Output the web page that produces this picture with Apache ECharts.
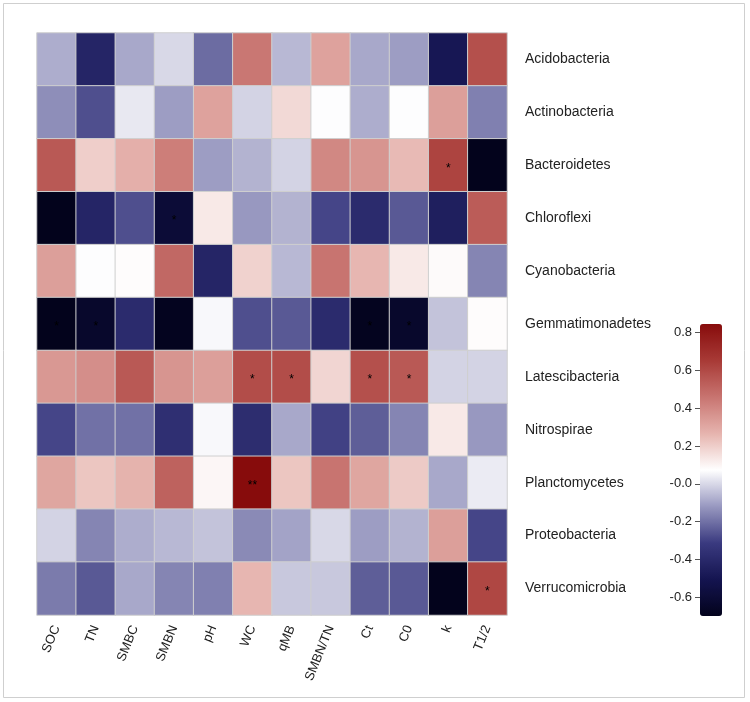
<!DOCTYPE html>
<html>
<head>
<meta charset="utf-8">
<script src="https://cdn.jsdelivr.net/npm/echarts@6/dist/echarts.min.js"></script>
<style>html,body{margin:0;padding:0;background:#fff}#c{width:750px;height:702px}</style>
</head>
<body>
<div id="c"></div>
<script>
const variables = ['SOC','TN','SMBC','SMBN','pH','WC','qMB','SMBN/TN','Ct','C0','k','T1/2'];
const taxa = ['Acidobacteria','Actinobacteria','Bacteroidetes','Chloroflexi','Cyanobacteria','Gemmatimonadetes','Latescibacteria','Nitrospirae','Planctomycetes','Proteobacteria','Verrucomicrobia'];

const acidobacteria    = [-0.08,-0.42,-0.09, 0.00,-0.21, 0.45,-0.06, 0.32,-0.09,-0.11,-0.49, 0.58];
const actinobacteria   = [-0.14,-0.27, 0.03,-0.11, 0.32,-0.01, 0.17, 0.07,-0.08, 0.07, 0.33,-0.17];
const bacteroidetes    = [ 0.55, 0.20, 0.28, 0.43,-0.11,-0.07,-0.01, 0.40, 0.36, 0.25, 0.62,-0.70];
const chloroflexi      = [-0.70,-0.42,-0.27,-0.60, 0.13,-0.12,-0.07,-0.29,-0.39,-0.25,-0.45, 0.54];
const cyanobacteria    = [ 0.33, 0.07, 0.08, 0.50,-0.42, 0.19,-0.06, 0.46, 0.26, 0.13, 0.085,-0.16];
const gemmatimonadetes = [-0.70,-0.64,-0.39,-0.69, 0.06,-0.27,-0.25,-0.39,-0.69,-0.64,-0.04, 0.08];
const latescibacteria  = [ 0.35, 0.38, 0.55, 0.36, 0.33, 0.59, 0.59, 0.18, 0.58, 0.55,-0.01,-0.01];
const nitrospirae      = [-0.29,-0.20,-0.20,-0.37, 0.06,-0.38,-0.09,-0.30,-0.24,-0.16, 0.13,-0.12];
const planctomycetes   = [ 0.31, 0.22, 0.27, 0.52, 0.095, 0.846, 0.22, 0.46, 0.31, 0.21,-0.09, 0.035];
const proteobacteria   = [-0.01,-0.16,-0.08,-0.06,-0.04,-0.15,-0.10, 0.00,-0.11,-0.07, 0.33,-0.29];
const verrucomicrobia  = [-0.18,-0.25,-0.09,-0.16,-0.17, 0.26,-0.03,-0.03,-0.24,-0.25,-0.70, 0.61];

const valueRows = [acidobacteria, actinobacteria, bacteroidetes, chloroflexi, cyanobacteria, gemmatimonadetes, latescibacteria, nitrospirae, planctomycetes, proteobacteria, verrucomicrobia];

// significance marks per row
const sigRows = [
  ['','','','','','','','','','','',''],
  ['','','','','','','','','','','',''],
  ['','','','','','','','','','','*',''],
  ['','','','*','','','','','','','',''],
  ['','','','','','','','','','','',''],
  ['*','*','','','','','','','*','*','',''],
  ['','','','','','*','*','','*','*','',''],
  ['','','','','','','','','','','',''],
  ['','','','','','**','','','','','',''],
  ['','','','','','','','','','','',''],
  ['','','','','','','','','','','','*']
];

const colorbarTicks = [-0.6,-0.4,-0.2,0,0.2,0.4,0.6,0.8];
const colorbarTickLabels = ['-0.6','-0.4','-0.2','-0.0','0.2','0.4','0.6','0.8'];
const scaleMin = -0.70, scaleMax = 0.846;

const data = [];
valueRows.forEach((row, yi) => row.forEach((v, xi) => data.push([xi, yi, v])));

const chart = echarts.init(document.getElementById('c'));
const font = '"Liberation Sans", Arial, sans-serif';
chart.setOption({
  animation: false,
  backgroundColor: '#fff',
  graphic: [{
    type: 'rect', shape: {x: 3.5, y: 3.5, width: 741, height: 694},
    style: {fill: 'none', stroke: '#cfcfcf', lineWidth: 1}, silent: true
  }],
  grid: [
    {left: 37, top: 33, width: 470, height: 582},
    {left: 700, top: 324, width: 22, height: 292}
  ],
  xAxis: [
    {type: 'category', gridIndex: 0, data: variables, position: 'bottom',
     axisLine: {show: false}, axisTick: {show: false}, splitLine: {show: false},
     axisLabel: {rotate: 68, margin: 11, fontSize: 13, color: '#222', fontFamily: font, interval: 0}},
    {type: 'value', gridIndex: 1, show: false, min: 0, max: 1}
  ],
  yAxis: [
    {type: 'category', gridIndex: 0, data: taxa, inverse: true, position: 'right',
     axisLine: {show: false}, axisTick: {show: false}, splitLine: {show: false},
     axisLabel: {margin: 18, fontSize: 14, color: '#222', fontFamily: font}},
    {type: 'value', gridIndex: 1, min: scaleMin, max: scaleMax, position: 'left',
     axisLine: {show: false}, splitLine: {show: false},
     axisTick: {show: true, length: 5, customValues: colorbarTicks, lineStyle: {color: '#555'}},
     axisLabel: {show: true, margin: 8, fontSize: 13, color: '#222', fontFamily: font,
       customValues: colorbarTicks,
       formatter: (v) => { const i = colorbarTicks.findIndex(t => Math.abs(t - v) < 1e-6); return i >= 0 ? colorbarTickLabels[i] : ''; }}}
  ],
  visualMap: {
    type: 'continuous', seriesIndex: 0, min: scaleMin, max: scaleMax,
    calculable: false, orient: 'vertical', left: 700, top: 324, padding: 0,
    itemWidth: 22, itemHeight: 292, text: null, showLabel: false,
    inRange: {color: ['#03031c','#141450','#3a3a80','#9898c0','#ffffff','#e6b4ae','#c87470','#a83a36','#870c0c']}
  },
  series: [{
    type: 'heatmap', xAxisIndex: 0, yAxisIndex: 0, data: data,
    itemStyle: {borderColor: '#cfcfcf', borderWidth: 1},
    label: {show: true, color: '#000', fontSize: 12, fontFamily: font, offset: [0, 3],
      formatter: (p) => sigRows[p.value[1]][p.value[0]]},
    emphasis: {disabled: true}
  }]
});
</script>
</body>
</html>
